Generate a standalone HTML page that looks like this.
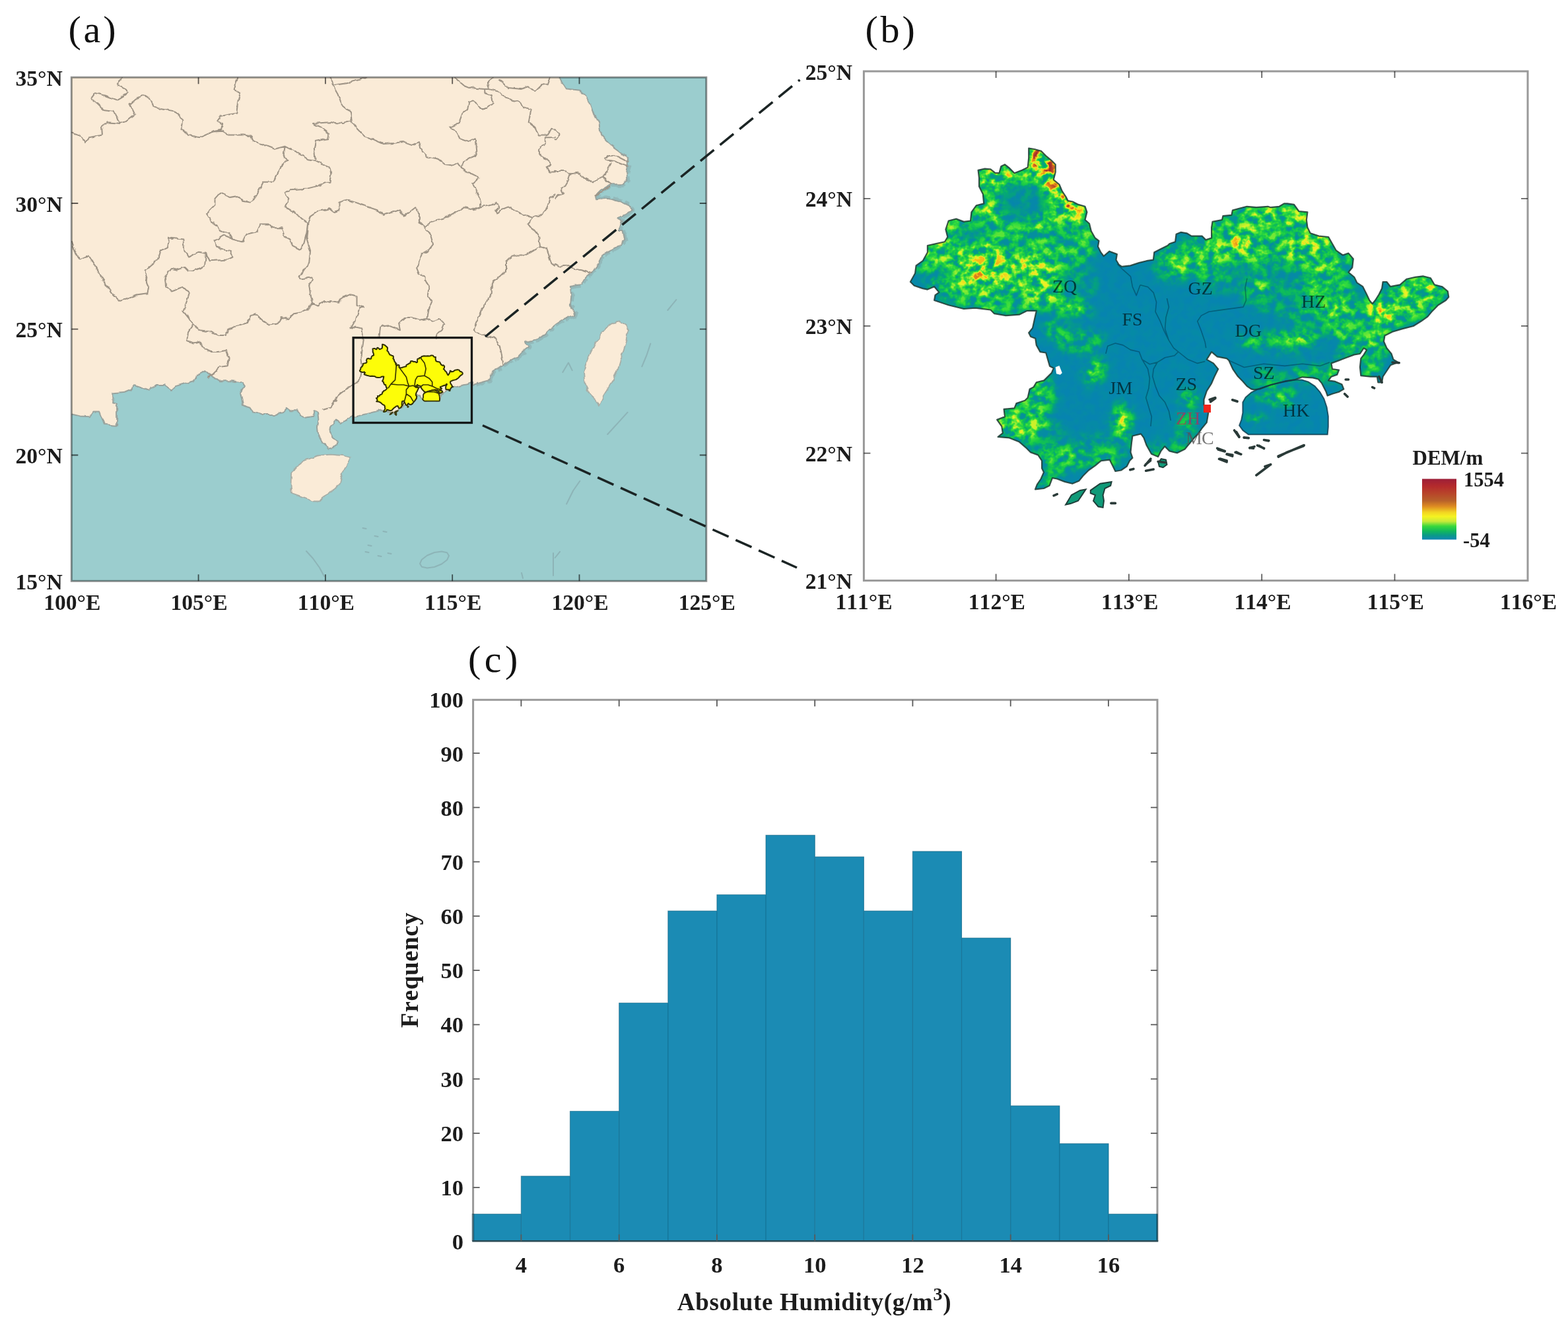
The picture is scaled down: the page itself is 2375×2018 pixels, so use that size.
<!DOCTYPE html>
<html lang="en"><head><meta charset="utf-8"><title>Study area and absolute humidity histogram</title>
<style>
html,body{margin:0;padding:0;background:#fff;}
body{width:2375px;height:2018px;overflow:hidden;}
svg{display:block;}
text{font-family:"Liberation Serif","DejaVu Serif",serif;fill:#1c1c1c;font-kerning:none;}
.tk{font-weight:bold;font-size:33.6px;}
.tc{font-weight:bold;font-size:34.5px;}
.pl{font-size:58px;fill:#111;}
.city{font-size:28px;fill:#000;fill-opacity:.62;}
</style></head><body>
<svg width="2375" height="2018" viewBox="0 0 2375 2018">
<rect width="2375" height="2018" fill="#fff"/>
<g id="panel-a">
<clipPath id="clipA"><rect x="108.3" y="117.2" width="961.5" height="763.1"/></clipPath>
<rect x="108.3" y="117.2" width="961.5" height="763.1" fill="#9bcdce"/>
<g clip-path="url(#clipA)">
<filter id="wigc" filterUnits="userSpaceOnUse" x="60" y="70" width="1060" height="860"><feTurbulence type="fractalNoise" baseFrequency="0.09" numOctaves="2" seed="8"/><feDisplacementMap in="SourceGraphic" scale="6" xChannelSelector="R" yChannelSelector="G"/></filter>
<g filter="url(#wigc)">
<path d="M952 248.8 949.2 261.8 950.6 273.4 943.4 279.2 924.6 279.2 910.1 287.8 901.4 296.5 904.3 302.3 918.8 300.8 927.5 302.3 939 305.2 953.5 312.4 957.8 318.2 946.3 325.4 936.1 329.8 941.9 335.5 939 344.2 939 350 943.4 350 946.3 361.6 939 371.7 924.6 378.9 913 384.7 910.1 393.4 901.4 404.9 895.7 413.6 887 420.8 881.2 431 872.5 432.4 863.9 433.9 865.3 448.3 863.9 462.8 869.6 474.3 870 478.7 854.8 483 841.8 491.7 833.1 498.6 825.3 506.4 815.8 513.4 802.8 516.8 794.1 519.4 801 525.5 792.4 532.5 785.4 539.4 772.4 546.3 763.7 551.5 755.9 556.7 746.4 562 743.8 569.8 742 575.8 729 579.3 716 582.8" fill="none" stroke="#7f9092" stroke-opacity="0.33" stroke-width="9" stroke-linejoin="round" stroke-dasharray="14 5 7 6 20 4"/>
<path d="M100 100 846.5 100 846.5 116.5 858.1 134.6 878.3 136.7 887 144.7 894.2 159.2 900 175.1 907.2 186.6 910.1 204 918.8 214.1 928.9 222.8 939 230 950.6 240.1 952 248.8 949.2 261.8 950.6 273.4 943.4 279.2 924.6 279.2 910.1 287.8 901.4 296.5 904.3 302.3 918.8 300.8 927.5 302.3 939 305.2 953.5 312.4 957.8 318.2 946.3 325.4 936.1 329.8 941.9 335.5 939 344.2 939 350 943.4 350 946.3 361.6 939 371.7 924.6 378.9 913 384.7 910.1 393.4 901.4 404.9 895.7 413.6 887 420.8 881.2 431 872.5 432.4 863.9 433.9 865.3 448.3 863.9 462.8 869.6 474.3 870 478.7 854.8 483 841.8 491.7 833.1 498.6 825.3 506.4 815.8 513.4 802.8 516.8 794.1 519.4 801 525.5 792.4 532.5 785.4 539.4 772.4 546.3 763.7 551.5 755.9 556.7 746.4 562 743.8 569.8 742 575.8 729 579.3 716 582.8 716.1 578.8 700.2 583 685.4 586.2 668.4 596.8 666.3 606.3 645.1 607.4 636.6 601 631.3 596.8 626 608.4 615.4 614.8 604.8 619 598.5 627.5 585.7 622.2 579.4 621.2 562.4 625.4 537 631.8 534.5 629.4 525.8 633.7 515.7 641 509.9 636.6 501.2 646.7 499.8 654 504.1 661.2 511.3 669.9 507 677.1 498.3 680 489.6 672.8 482.4 661.2 481 646.7 482.4 635.2 481 625.1 476.6 622.2 475.2 630.8 465.1 632.3 454.9 629.4 449.2 622.2 440.5 622.2 434.7 617.8 428.9 625.1 417.3 628 400 628 383.4 623.6 379.5 617.8 368 614 364.1 594.7 369.9 585.1 366 579.3 350.6 577.3 333.3 577.3 321.7 569.6 312 561.9 296.6 569.6 292.8 577.3 279.3 581.2 265.8 585.1 260 590.8 248.4 583.1 238.8 583.1 225.3 590.8 215.7 587 204.1 583.1 198.3 590.8 188.7 594.7 171.3 596.6 171.3 610.1 177.1 612 177.1 644.8 157.8 642.9 154 633.3 150.1 623.6 142.4 623.6 136.6 631.3 121.2 630.4 108.7 627.5 100 627.5Z" fill="#faebd7" stroke="#98a29d" stroke-width="2" stroke-linejoin="round"/>
<path d="M462.2 697.3 481 690.1 501.2 688.7 518.6 690.1 530.1 693 527.2 701.7 522.9 708.9 518.6 717.6 514.2 733.5 507 740.7 492.5 749.4 483.9 759.5 475.2 759.5 457.8 753.7 441.9 748 440.5 733.5 441.2 716.1 450.6 706Z" fill="#faebd7" stroke="#a6ada6" stroke-width="1.8" stroke-linejoin="round"/>
<path d="M939 487.3 947.7 493.1 952 500.4 949.2 514.8 944.8 530.7 939 545.2 934.7 559.6 928.9 575.5 921.7 587.1 914.5 598.7 910.1 608.8 907.2 614.6 904.3 607.3 898.6 601.6 892.8 595.8 885.5 581.3 884.1 564 887 552.4 894.2 535.1 901.4 520.6 910.1 506.1 920.2 494.6 930.4 488.8Z" fill="#faebd7" stroke="#a6ada6" stroke-width="1.8" stroke-linejoin="round"/>
</g>
<filter id="wig" filterUnits="userSpaceOnUse" x="100" y="110" width="980" height="780"><feTurbulence type="fractalNoise" baseFrequency="0.11" numOctaves="2" seed="3"/><feDisplacementMap in="SourceGraphic" scale="5" xChannelSelector="R" yChannelSelector="G"/></filter>
<path d="M184.8 116.7 177.1 129.3 190.6 135.1 194.5 140.8 177.1 151.4 159.8 144.7 143.4 140.8 137.6 148.6 148.2 158.2 155.9 165.9 171.3 167.8 177.1 177.5 181 187.1 190.6 184.2 204.1 173.6 196.4 158.2 208 148.6 218.6 143.7 227.2 148.6 233 161.1 242.7 164.9 260 167.8 269.6 171.7 277.3 183.3 275.4 194.8 285.1 204.5 302.4 208.3 315.9 202.5 321.7 199.6 337.1 198.7 346.7 204.5 369.9 204.5 379.5 206.4 385.3 214.1 400.7 219.9 416.1 225.7 431.6 221.8 447 229.5 466.3 241.1 477.8 243 500 254.6 501.3 264.2 499.4 275.8 493.3 275.8 481.7 281.6 466.3 285.4 439.3 287.3 431.6 293.1 437.3 300.8 431.6 314.3 445.1 320.1 456.6 331.7 466.3 337.5 470.1 327.8 481.7 320.1 500 316.3M181 187.1 163.6 185.2 154 191 154.9 204.5 134.7 208.3 128.9 216 121.2 204.5 108.7 200.6M360.2 116.7 354.5 135.1 364.1 140.8 360.2 154.3 358.3 171.7 335.2 175.5 329.4 183.3 337.1 187.1 335.2 196.7 321.7 199.6M431.6 221.8 429.6 235.3 435.4 243 427.7 248.8 420 264.2 414.2 275.8 398.8 275.8 393 287.3 385.3 300.8 377.6 306.6 368 304.7 360.2 297 348.7 298.9 333.3 292.2 325.5 300.8 325.5 310.5 312 324 319.8 335.5 329.4 341.3 333.3 349 346.7 352.9 352.5 362.5 366 366.4 373.7 354.8 389.2 351 394.9 339.4 406.5 339.4 412.3 345.2 427.7 345.2 431.6 358.7 439.3 362.5 443.1 372.2 454.7 378 460.5 368.3 464.3 352.9 466.3 337.5M500 185.2 474 187.1 485.5 192.9 499 202.5 497.1 210.2 477.8 214.1 475.9 225.7 477.8 243M466.3 337.5 464.3 360.6 470.1 379.9 468.2 399.2 452.8 418.4 456.6 422.3 472 420.4 473.4 425M352.5 362.5 339 356.7 325.5 364.5 327.5 372.2 337.1 378 348.7 379.9 352.5 389.5 344.8 393.4 317.8 395.3 312 383.7 300.5 381.8 285.1 389.5 279.3 379.9 277.3 362.5 256.1 360.6 254.2 374.1 242.7 379.9 238.8 393.4 227.2 403 219.5 410.7 223.1 425M312 383.7 310.1 403 292.8 410.7 285.1 410.7 279.3 404.9 267.7 408.8 260 406.9 250.4 418.4 251.5 425M108.7 366.4 115.4 385.7 121.2 393.4 134.7 387.6 148.2 410.7 157.7 425M500 115.8 503.9 129.3 511.6 142.8 517.3 158.2 530.8 169.8 532.8 183.3 540.5 194.8 552 206.4 567.5 212.2 581 218 596.4 217 609.9 215.1 623.4 219.9 634.9 215.1 638.8 229.5 646.5 237.2 663.9 241.1 673.5 248.8 685.1 250.7 692.8 246.9 698.6 254.6 710.1 262.3 721.7 266.1 725.5 270 715.9 277.7 719.8 287.3 723.6 295.1 727.5 302.8 728.4 314.3M532.8 183.3 519.3 187.1 500 185.2M503.9 129.3 528.9 125.4 554 117.7M728.4 314.3 717.8 317.2 704.3 314.3 690.8 322 673.5 329.8 654.2 335.5 642.7 344.2 634.9 335.5 634.9 322 629.2 314.3 619.5 322 611.8 327.8 606 318.2 592.5 322 581 325.9 571.3 318.2 554 312.4 538.6 306.6 525.1 302.8 513.5 306.6 513.5 318.2 505.8 321.1 500 317.2M642.7 344.2 652.3 356.7 656.1 370.2 648.4 379.9 638.8 385.7 634.9 397.2 631.1 404.9 634.9 414.6 642.7 418.4 642.7 425M728.4 314.3 744.8 310.5 752.5 306.6 756.4 314.3 750.6 320.1 752.5 324 760.2 316.3 769.9 312.4 777.6 318.2 789.2 324 806.5 328.8 820 325.9 829.6 314.3 833.5 300.8 839.3 295.1 840 294.9M806.5 328.8 800.7 339.4 808.4 349 816.1 358.7 818.1 374.1 827.7 376 831.6 387.6 835.4 399.2 840 402.6M818.1 374.1 804.6 381.8 789.2 387.6 775.7 387.6 766 397.2 766 410.7 758.3 418.4 748.5 425M840 260.4 831.6 260.4 827.7 252.7 835.4 248.8 827.7 241.1 816.1 233.4 816.1 225.7 825.8 218 825.8 208.3 839.3 208.3 840 208.1M840 195.7 835.4 194.8 829.6 204.5 816.1 204.5 810.4 192.9 800.7 185.2 804.6 165.9 793 162 785.3 154.3 766 148.6 756.4 138.9 741 135.1 739 125.4 746.7 117.7M698.6 254.6 702.4 244.9 712 239.2 721.7 235.3 719.8 210.2 710.1 215.1 696.6 210.2 690.8 198.7 681.2 192.9 694.7 187.1 700.5 171.7 708.2 165.9 710.1 154.3 717.8 152.4 727.5 164 737.1 164 746.7 156.3 744.8 144.7 733.3 140.8 733.3 135.1 741 135.1M688.9 117.7 702.4 129.3 712 133.1 733.3 135.1M756.4 121.6 769.9 133.1 789.2 135.1 800.7 131.2 810.4 138.9 820 129.3 829.6 127.3 833.5 117.7M155.6 425 161.7 432.8 171.3 446.3 181 455.9 192.5 452 208 446.3 223.4 444.3 225.3 432.8 222 425M251.1 425 252.3 434.7 260 440.5 277.3 434.7 287 444.3 283.1 455.9 277.3 471.3 285.1 481 292.8 490.6 285.1 502.2 283.1 515.7 292.8 519.5 304.3 517.6 310.1 529.2 317.8 533 331.3 533 342.9 531.1 346.7 542.7 344.8 554.2 333.3 556.1 323.6 565.8 315.9 571.6M292.8 490.6 302.4 500.2 317.8 502.2 331.3 508 342.9 508 344.8 500.2 362.2 492.5 375.7 488.7 379.5 477.1 387.2 475.2 396.9 484.8 408.4 492.5 420 490.6 425.8 481 437.3 482.9 445.1 475.2 456.6 473.3 466.3 467.5 474 459.8 470.1 446.3 468.2 432.8 472.1 425M474 459.8 481.7 463.6 491.3 455.9 500 457.8M644.5 425 650.4 436.6 648.4 448.2 654.2 455.9 648.4 469.4 646.5 482.9 634.9 484.8 623.4 481 613.7 481 604.1 490.6 606 500.2 596.4 496.4 586.7 492.5 575.2 494.5 573.3 511.8M646.5 482.9 654.2 486.7 665.8 482.9 673.5 490.6 669.6 500.2 661.9 506 660 511.8M550.1 511.8 548.2 496.4 538.6 494.5 530.8 498.3 538.6 484.8 544.3 467.5 550.1 465.5 540.5 461.7 540.5 448.2 530.8 446.3 519.3 450.1 511.6 457.8 500 455.9M489.6 620.7 500 617.8 507.7 608.2 511.6 600.5 521.2 592.8 528.9 585.1 542.4 579.3 546.3 569.6 548.2 558.1 546.3 542.7 548.2 525.3 550.1 511.8M748.3 425 744.8 430.8 744.8 444.3 737.1 455.9 731.3 465.5 723.6 481 717.8 500.2 721.7 504.1 735.2 508 748.7 511.8 756.4 523.4 760.2 538.8 762.2 552.3M840 195.4 840.7 195.3 846.5 204 843.6 211.2 840 211.2M840 258.7 842.2 258.9 855.2 258.9 863.9 263.3 875.4 261.8 884.1 269 892.8 273.4 898.6 277.7 905.8 270.5 914.5 267.6 918.8 260.4 923.1 251.7 926 247.3M914.5 267.6 918.8 274.8 924.6 279.2M863.9 263.3 861 271.9 855.2 282 850.8 287.8 853.7 293.6 843.6 296.5 840 300.1M915.9 238.7 924.6 235.8 936.1 237.2 950.6 244.5M917.3 241.6 930.4 244.5 941.9 248.8 950.6 253.1M901.4 296.5 910.1 290.7 918.8 284.9 924.6 282M840 400 849.4 403.5 861 402 869.6 407.8 881.2 409.3 889.9 412.2 895.7 413.6" fill="none" stroke="#9d9385" stroke-width="2" stroke-linejoin="round" stroke-linecap="round" filter="url(#wig)"/>
<path d="M1011.3 470 1024.3 454.1M972.3 555.3 979.5 538 985.3 520.6M852.3 564 861 549.5 866.7 561.1M920.2 658 936.1 640.6 950.6 624.7M858.1 763.5 868.2 743.3 878.3 728.8M840.7 845 848 835.8M549.5 800 554.5 801M557.5 826 562.5 827M567.5 812 572.5 813M580.5 805 585.5 806M587.5 838 592.5 839M553.5 836 558.5 837M572.5 842 577.5 843M680 842 677.1 848.3 669 854.5 658 859 647 860.5 638.9 858.7 636 854 638.9 847.7 647 841.5 658 837 669 835.5 677.1 837.3 680 842M464 835 474 846 484 860 491 873M838 838 838 872M790 868 792 876" fill="none" stroke="#8aaeb2" stroke-width="2" stroke-linecap="round" stroke-linejoin="round" stroke-opacity="0.8"/>
<path d="M544.8 561.8 546.2 559.3 546.5 557 548.4 555.5 549.8 553 549.8 551 552.3 550.4 554.8 549.8 555.6 548.4 555 546.1 555.9 543.5 558.1 543 560.3 543.8 562.2 543.5 562.5 541 563.9 539 566.1 538.4 565.8 535.5 564.7 533.2 564.7 530.7 564.5 528.4 566.4 527.9 568 528.1 569.4 529.2 570.5 529.2 571.1 527.2 572.2 526.7 573.6 527.8 575 529.2 577.2 528.4 578.8 527.5 579.1 524.7 579.1 521.8 580.8 522.1 582.7 522.7 584.1 524.1 585.8 525.5 586.9 526.7 586.9 529 586.3 531.2 588 532.7 588.8 534.7 589.9 536.4 590.5 537.5 591.8 537.8 593.5 538.7 595.4 539.2 596 541 595.4 543.2 596.7 544.4 597.2 546.7 598.3 548.7 599.4 549.5 599.2 551.3 600 553 600.8 554.1 602.5 552.7 604.7 553.5 604.4 555.3 605.3 556.7 606.1 557.3 608.6 557 611.1 556.1 613.3 555.5 615.2 555.3 615.5 553 617.1 552.1 619.4 551 619.9 550.4 621.6 549.8 621.8 547.5 623.2 547 624.9 547.2 626.3 548.1 629.3 548.1 630.4 549.2 632.1 548.7 632.1 545.5 632.4 543.8 635.1 543.2 635.4 542.1 637.9 541.8 638.2 540.4 640.1 539.8 642.3 539.2 645.1 539.5 648.4 539.2 649.2 539.5 651.7 539.2 653.1 538.4 654.1 538.4 656 538.7 657.4 540.7 659.9 541 659.6 543.2 659.9 545.5 660.7 547.2 663.2 548.1 666 548.4 667.1 550.4 668.2 552.4 670.1 553.8 671.8 553.3 673.2 555 672.9 557.5 671.8 559 673.4 560.4 674.3 562.1 675.9 563.3 677 565.5 677.9 567.4 678.7 568.4 679.5 567.4 680.6 565.5 681.5 563.8 681.7 561.8 682.8 561.8 683.9 563.3 686.7 562.7 688.7 561 691.1 560.4 693.4 560.1 695.6 560.7 696.7 562.7 698.9 563.3 700.5 564.7 700.8 566.4 700 567.4 697.8 568.8 696.1 570.5 694.7 572.2 692.8 573.7 690.6 575.1 687.3 575.9 684.5 576.8 682.3 577.9 682 579.7 682.8 581.7 684.2 583.4 684.8 585.1 686.2 586 683.9 586.8 682.8 588.5 681.7 590.2 681.5 592 680.4 592 680.1 590.2 678.1 590.2 675.4 590 675.1 587.4 675.4 584.8 676.2 583.7 677 582.2 676.2 581.7 675.1 583.4 673.4 583.7 671.2 584.5 669 585.4 666.8 586.2 667.1 588 669 588.2 668.5 589.7 666.8 590.2 666 591.4 667.9 591.7 669.8 592.5 670.4 594 669 594.8 667.1 595.4 665.7 596 665.3 594.8 664.7 593.5 664.1 592.3 663.1 591 661.4 590.6 658.4 590.4 656.4 591.1 653.3 591.6 649.3 592.7 646 593.9 644.4 594.1 643.6 593.9 642.4 593.1 641.1 591.6 639.7 590.2 638.3 588.1 637.1 585.3 636.5 584.8 633.7 584.2 632.1 582.8 630.7 585.1 632.6 586.2 634 588 632.9 590.2 632.1 592.2 630.7 594.5 629.9 597.1 629.9 598.8 631.3 600.5 630.7 604 629.3 605.7 628.2 607.4 627.1 608.5 625.7 610.3 624.3 612 622.1 613.1 619.9 612.5 618.5 611.1 617.4 612.5 616.6 614.3 614.7 613.4 613.3 610.8 612.4 608.5 611.6 607.4 609.2 608 608.9 610 608.6 612.9 609.2 614.6 608.4 615.4 607.5 617.1 605.9 618.3 604.2 618.6 603.4 616.9 602.6 615.1 600.1 615.4 598.4 616.9 596.5 618.3 594.8 620 593.7 621.4 591.8 622.3 589.6 621.7 587.3 620.9 586 620.6 585.1 622.9 583.5 623.7 581 624 581.5 622.6 582.6 620.9 583.5 618.9 582.9 617.7 582.9 615.4 581.8 613.7 579.6 612.9 578.2 611.4 576.3 609.7 573.5 608.6 570.2 608.3 571.6 607.1 571.3 605.1 569.9 603.1 572.2 602.2 571.9 600 575 599.7 575.5 598.2 578 597.4 578.8 596.5 579.4 594 580.5 593.4 581.3 592 583.5 591.4 585.8 589.1 586.3 587.7 585.2 587.1 584.6 585.1 584.1 583.1 582.4 582.8 581.3 580.8 581 578.8 579.7 578.2 579.1 577.1 580.2 575.7 580.8 573.1 581.3 570.5 578.6 570.5 576.3 571.7 572.5 571.9 569.2 571.4 568 570.2 563.6 569.7 560.3 569.9 555.9 568.8 551.7 567.4 552 565.8 553.1 565 551.7 563.3 549.8 564.1 548.4 563.8 545.9 563Z" fill="#fdfd08" stroke="#2f2e00" stroke-width="2" stroke-linejoin="round"/>
<path d="M642.8 607.6 641.1 606.3 640.1 604.8 640.7 603.2 641.1 601.1 641.1 597.9 642 596.5 643.6 595 645.6 593.9 648 593.1 650.9 592.3 653.7 591.6 656.4 591.2 658.4 591.2 660.2 591.8 662 593.1 663.5 594.8 664.7 596.9 665.5 599.4 665.9 602.1 665.9 605.3 665.7 607.6Z" fill="#fdfd08" stroke="#2f2e00" stroke-width="1.8" stroke-linejoin="round"/>
<path d="M597 624.3 599.8 622.3 603.1 621.7 602.8 622.9 601.2 623.7 600.6 625.7 600.9 627.4 600.6 629.4 599.2 629.2 597.9 627.4 598.4 625.7 597 625.2Z" fill="#3a3a10" stroke="#3a3a10" stroke-width="1"/>
<path d="M589.8 628.6 591.5 625.7 594 624.3 595.6 624 594.5 625.7 593.4 627.4 591.2 628.3Z" fill="#3a3a10" stroke="#3a3a10" stroke-width="1"/>
<path d="M616.7 616 617.5 614.9 618.9 615.1 619.2 616.6 618 617.4 616.9 617.1Z" fill="#3a3a10" stroke="#3a3a10" stroke-width="1"/>
<path d="M600.6 550.1 599.5 563.9 598.5 575.6 592.1 581.9 587.9 588.3M603.8 555.4 610.1 563.9 615.4 571.3 617.5 579.8 619.7 585.1 615.4 590.4 615.4 596.8 613.3 605.3 611.2 611.6 609.1 614.8M592.1 581.9 602.7 583 611.2 583 619.7 585.1 626 584.1 630.3 587.2 635.6 587.2M615.4 596.8 621.8 601 626 608.4M636.6 541.7 643 550.1 645.1 558.6 643 569.2 632.4 570.3 629.2 575.6 628.1 583 630.3 587.2M643 569.2 650.4 573.5 654.7 578.8 654.7 585.1 648.3 583 640.9 583 635.6 587.2M654.7 585.1 661 588.3 667.4 590.4M641.9 595.7 647.2 593.6 657.8 593.6 666.3 596.8" fill="none" stroke="#3a3800" stroke-width="1.7" stroke-linejoin="round"/>
</g>
<rect x="108.3" y="117.2" width="961.5" height="763.1" fill="none" stroke="#000" stroke-opacity="0.42" stroke-width="3"/>
<path d="M300.6 880.3v-10M300.6 117.2v10M492.9 880.3v-10M492.9 117.2v10M685.2 880.3v-10M685.2 117.2v10M877.5 880.3v-10M877.5 117.2v10M108.3 308h10M1069.8 308h-10M108.3 498.7h10M1069.8 498.7h-10M108.3 689.5h10M1069.8 689.5h-10" stroke="#000" stroke-opacity="0.62" stroke-width="1.8" fill="none"/>
<text class="tk" x="109.3" y="923.8" text-anchor="middle">100°E</text>
<text class="tk" x="301.6" y="923.8" text-anchor="middle">105°E</text>
<text class="tk" x="493.9" y="923.8" text-anchor="middle">110°E</text>
<text class="tk" x="686.2" y="923.8" text-anchor="middle">115°E</text>
<text class="tk" x="878.5" y="923.8" text-anchor="middle">120°E</text>
<text class="tk" x="1070.8" y="923.8" text-anchor="middle">125°E</text>
<text class="tk" x="94.8" y="129.7" text-anchor="end">35°N</text>
<text class="tk" x="94.8" y="320.5" text-anchor="end">30°N</text>
<text class="tk" x="94.8" y="511.2" text-anchor="end">25°N</text>
<text class="tk" x="94.8" y="702" text-anchor="end">20°N</text>
<text class="tk" x="94.8" y="892.8" text-anchor="end">15°N</text>
<text class="pl" x="103.5" y="63.5" letter-spacing="3.8">(a)</text>
</g>
<g id="panel-b">
<clipPath id="clipB"><rect x="1308.4" y="108" width="1005.6" height="771.6"/></clipPath>
<g clip-path="url(#clipB)">
<defs>
<clipPath id="bclip"><path d="M1378.9 427 1386.1 414 1387.6 402.4 1397.7 395.2 1404.9 382.2 1404.9 372 1418 369.2 1431 366.3 1435.3 359 1432.4 347.5 1436.7 334.5 1448.3 331.6 1459.9 335.9 1470 334.5 1471.4 321.4 1478.7 311.3 1490.2 308.4 1488.8 294 1483 282.4 1483 269.4 1481.6 257.8 1491.7 255.7 1500.4 256.4 1507.6 262.2 1513.4 262.2 1516.3 252 1522 249.2 1529.3 254.9 1536.5 262.2 1548.1 257.8 1556.7 253.5 1558.2 239 1558.2 224.6 1566.9 226 1577 228.9 1584.2 236.1 1592.9 243.4 1598.7 249.2 1598.7 260.7 1595.8 272.3 1604.5 279.5 1608.8 289.6 1614.6 298.3 1617.5 304.1 1624.7 305.5 1633.4 309.9 1643.5 312.8 1646.4 321.4 1643.5 333 1650 338.8 1652.9 350.4 1658.7 360.5 1664.5 364.8 1663 373.5 1667.3 382.2 1671.7 388 1680.4 380.7 1691.9 385.1 1690.5 393.7 1694.8 401 1699.2 403.9 1712.2 402.4 1725.2 398.1 1736.7 395.2 1746.9 393.7 1748.3 382.2 1757 377.8 1768.6 372 1771.4 369.2 1780.1 366.3 1781.6 354.7 1788.8 351.8 1797.5 353.3 1804.7 357.6 1820.6 357.6 1826.4 363.4 1835.1 360.5 1835.1 344.6 1836.5 335.9 1851 333 1852.4 327.2 1865.4 325.8 1866.9 318.6 1877 315.7 1888.6 312.8 1903 314.2 1920.4 312.8 1924.7 314.2 1937.7 312.8 1944.9 308.4 1950 308.4 1960.1 309.9 1967.3 320 1980.4 321.4 1978.9 333 1980.4 344.6 1984.7 353.3 1997.7 357.6 2012.2 359 2018 369.2 2023.7 379.3 2033.9 386.5 2042.5 383.6 2049.8 392.3 2048.3 405.3 2042.5 412.5 2051.2 419.8 2055.5 428.4 2064.2 434.2 2070 445.8 2074.3 455 2078.7 460.2 2083 455 2088.8 445.8 2093.1 437.1 2094.6 427 2100.4 427 2106.1 434.2 2120.6 431.3 2130.7 422.7 2143.7 419.8 2155.3 418.3 2166.9 421.2 2172.7 431.3 2184.2 434.2 2192.9 441.4 2194.3 450.1 2190 455 2178.4 462.2 2169.8 470.9 2162.5 479.6 2152.4 486.8 2140.8 494 2123.5 498.4 2109 502.7 2097.5 508.5 2096 517.2 2100.4 527.3 2107.6 536 2110.5 544.6 2117.7 549 2106.1 553.3 2100.4 562 2094.6 570.7 2093.1 579.3 2087.3 579.3 2085.9 570.7 2075.8 570.7 2061.3 569.2 2059.9 556.2 2061.3 543.2 2065.7 537.4 2070 530.2 2065.7 527.3 2059.9 536 2051.2 537.4 2039.6 541.7 2028.1 546.1 2016.5 550.4 2018 559.1 2028.1 560.5 2025.2 567.8 2016.5 570.7 2012.2 576.4 2022.3 577.9 2032.4 582.2 2035.3 589.5 2028.1 593.8 2018 596.7 2010.7 599.6 2008.6 593.6 2005.4 587.3 2002.2 580.9 1996.9 574.5 1988.4 572.4 1972.5 571.3 1961.9 575.1 1946 577.7 1924.8 583 1907.9 589.4 1899.4 590.4 1895.1 589.4 1888.8 585.1 1882.4 577.7 1875 570.3 1867.6 559.7 1861.2 545.9 1858.2 543.2 1843.7 540.3 1835.1 533.1 1827.8 544.6 1838 550.4 1845.2 559.1 1839.4 570.7 1835.1 580.8 1827.8 592.3 1823.5 605.4 1823.5 614 1830.7 622.7 1827.8 640.1 1820.6 648.7 1814.8 657.4 1809 663.2 1801.8 671.9 1794.6 680.5 1783 686.3 1771.4 683.4 1764.2 676.2 1758.4 683.4 1754.1 692.1 1744 687.8 1736.7 674.8 1732.4 663.2 1728.1 657.4 1715.4 660.5 1714 670.6 1712.5 685.1 1715.4 693.7 1711.1 698.1 1706.7 706.7 1698.1 712.5 1689.4 714 1685.1 705.3 1680.7 696.6 1667.7 698.1 1659 705.3 1648.9 712.5 1640.2 721.2 1634.5 728.4 1624.3 732.8 1612.8 729.9 1601.2 725.5 1594 724.1 1589.6 735.7 1581 740 1568 741.4 1570.8 734.2 1576.6 725.5 1581 715.4 1578.1 709.6 1578.1 698.1 1572.3 689.4 1560.7 685.1 1553.5 677.8 1543.4 669.2 1528.9 663.4 1511.6 661.9 1518.8 656.1 1517.3 646 1510.1 635.9 1522 631.4 1520.6 619.8 1536.5 618.4 1539.4 611.1 1552.4 606.8 1556.7 602.5 1559.6 589.5 1565.4 586.6 1569.8 579.3 1581.3 576.4 1592.9 564.9 1595.8 557.7 1590 554.8 1587.1 544.6 1584.2 534.5 1575.5 533.1 1569.8 523 1568.3 512.8 1561.1 509.9 1558.2 504.2 1564 496.9 1566.9 483.9 1569.8 470.9 1555.3 470.9 1543.7 476.7 1523.5 478.1 1506.1 475.2 1500.4 469.5 1477.2 466.6 1459.9 468 1436.7 462.2 1415.1 455 1416.5 447.2 1422.3 442.9 1415.1 434.2 1404.9 438.6 1397.7 437.1 1384.7 432.8Z"/><path d="M1890.9 658.3 1882.4 651.9 1877.1 644.5 1880.3 636 1882.4 625.4 1882.4 609.5 1886.7 602.1 1895.1 594.7 1905.7 589.4 1918.5 585.1 1933.3 580.9 1948.1 577.7 1961.9 575.6 1972.5 575.6 1982.1 578.8 1991.6 585.1 1999 593.6 2005.4 604.2 2009.6 616.9 2011.8 630.7 2011.8 646.6 2010.7 658.3Z"/></clipPath>
<filter id="demf" filterUnits="userSpaceOnUse" x="1360" y="200" width="860" height="580" color-interpolation-filters="sRGB">
<feGaussianBlur in="SourceGraphic" stdDeviation="7" result="L"/>
<feTurbulence type="fractalNoise" baseFrequency="0.075 0.08" numOctaves="3" seed="11" result="t"/>
<feColorMatrix in="t" type="matrix" values="1 0 0 0 0 1 0 0 0 0 1 0 0 0 0 0 0 0 0 1" result="g"/>
<feComponentTransfer in="g" result="N"><feFuncR type="linear" slope="2.4" intercept="-0.7"/><feFuncG type="linear" slope="2.4" intercept="-0.7"/><feFuncB type="linear" slope="2.4" intercept="-0.7"/></feComponentTransfer>
<feComposite in="L" in2="N" operator="arithmetic" k1="0.74" k2="0.15" k3="0.04" k4="0.13" result="E"/>
<feComponentTransfer in="E"><feFuncR type="table" tableValues="0.03 0.03 0.02 0.02 0.08 0.20 0.55 0.92 0.97 0.85 0.65"/><feFuncG type="table" tableValues="0.45 0.50 0.56 0.66 0.78 0.86 0.93 0.95 0.75 0.45 0.18"/><feFuncB type="table" tableValues="0.80 0.72 0.62 0.46 0.30 0.24 0.20 0.15 0.10 0.12 0.18"/><feFuncA type="linear" slope="0" intercept="1"/></feComponentTransfer>
</filter></defs>
<g clip-path="url(#bclip)"><g filter="url(#demf)">
<rect x="1340" y="180" width="900" height="620" fill="#000"/>
<ellipse cx="1526.4" cy="353.4" rx="144.5" ry="120.4" fill="#fff" fill-opacity="0.42" transform="rotate(-25 1526.4 353.4)"/>
<ellipse cx="1444.5" cy="387.1" rx="67.4" ry="53" fill="#fff" fill-opacity="0.25"/>
<ellipse cx="1598.7" cy="300.4" rx="53" ry="72.3" fill="#fff" fill-opacity="0.25" transform="rotate(-20 1598.7 300.4)"/>
<ellipse cx="1569.7" cy="430.5" rx="96.3" ry="43.4" fill="#fff" fill-opacity="0.30"/>
<ellipse cx="1492.7" cy="396.8" rx="38.5" ry="33.7" fill="#fff" fill-opacity="0.35"/>
<ellipse cx="1502.3" cy="317.3" rx="19.3" ry="14.5" fill="#fff" fill-opacity="0.35"/>
<ellipse cx="1560.1" cy="396.8" rx="16.9" ry="19.3" fill="#fff" fill-opacity="0.35"/>
<ellipse cx="1468.6" cy="418.4" rx="19.3" ry="13.5" fill="#fff" fill-opacity="0.30"/>
<ellipse cx="1622.7" cy="469" rx="24.1" ry="8.7" fill="#fff" fill-opacity="0.40"/>
<ellipse cx="1577" cy="242.6" rx="18.3" ry="24.1" fill="#fff" fill-opacity="0.75" transform="rotate(-15 1577 242.6)"/>
<ellipse cx="1574.6" cy="233" rx="9.6" ry="10.6" fill="#fff" fill-opacity="0.80"/>
<ellipse cx="1617.9" cy="293.2" rx="14.5" ry="28.9" fill="#fff" fill-opacity="0.45" transform="rotate(-25 1617.9 293.2)"/>
<ellipse cx="1634.8" cy="314.9" rx="7.7" ry="10.6" fill="#fff" fill-opacity="0.50"/>
<ellipse cx="1502.3" cy="264.3" rx="28.9" ry="14.5" fill="#fff" fill-opacity="0.30"/>
<ellipse cx="1550.5" cy="305.2" rx="38.5" ry="28.9" fill="#000" fill-opacity="0.75"/>
<ellipse cx="1473.4" cy="355.8" rx="28.9" ry="15.4" fill="#000" fill-opacity="0.60"/>
<ellipse cx="1608.3" cy="353.4" rx="24.1" ry="14.5" fill="#000" fill-opacity="0.45"/>
<ellipse cx="1420.4" cy="416" rx="28.9" ry="14.5" fill="#000" fill-opacity="0.45"/>
<ellipse cx="1637.2" cy="420.8" rx="38.5" ry="28.9" fill="#000" fill-opacity="0.50"/>
<ellipse cx="1531.2" cy="454.6" rx="28.9" ry="12" fill="#000" fill-opacity="0.40"/>
<ellipse cx="1916.6" cy="353.4" rx="106" ry="45.8" fill="#fff" fill-opacity="0.45"/>
<ellipse cx="1805.8" cy="391.9" rx="53" ry="28.9" fill="#fff" fill-opacity="0.35"/>
<ellipse cx="1998.5" cy="382.3" rx="53" ry="33.7" fill="#fff" fill-opacity="0.35"/>
<ellipse cx="1882.9" cy="360.6" rx="21.7" ry="15.4" fill="#fff" fill-opacity="0.50" transform="rotate(-30 1882.9 360.6)"/>
<ellipse cx="1875.6" cy="367.9" rx="8.7" ry="6.7" fill="#fff" fill-opacity="0.60"/>
<ellipse cx="1940.7" cy="324.5" rx="62.6" ry="16.9" fill="#fff" fill-opacity="0.30"/>
<ellipse cx="1909.3" cy="435.3" rx="12.5" ry="9.6" fill="#fff" fill-opacity="0.60"/>
<ellipse cx="1984" cy="432.9" rx="9.6" ry="7.7" fill="#fff" fill-opacity="0.65"/>
<ellipse cx="1945.5" cy="406.4" rx="28.9" ry="13.5" fill="#000" fill-opacity="0.50"/>
<ellipse cx="1844.3" cy="430.5" rx="28.9" ry="14.5" fill="#fff" fill-opacity="0.20"/>
<ellipse cx="2133.3" cy="454.6" rx="62.6" ry="33.7" fill="#fff" fill-opacity="0.50" transform="rotate(-25 2133.3 454.6)"/>
<ellipse cx="2061.1" cy="488.3" rx="53" ry="38.5" fill="#fff" fill-opacity="0.40"/>
<ellipse cx="2152.6" cy="437.7" rx="28.9" ry="14.5" fill="#fff" fill-opacity="0.35" transform="rotate(-20 2152.6 437.7)"/>
<ellipse cx="2090" cy="464.2" rx="19.3" ry="13.5" fill="#fff" fill-opacity="0.35"/>
<ellipse cx="2012.9" cy="449.7" rx="28.9" ry="24.1" fill="#fff" fill-opacity="0.25"/>
<ellipse cx="2090" cy="526.8" rx="19.3" ry="24.1" fill="#fff" fill-opacity="0.35"/>
<ellipse cx="2051.4" cy="531.6" rx="28.9" ry="19.3" fill="#fff" fill-opacity="0.30"/>
<ellipse cx="1959.9" cy="512.4" rx="33.7" ry="6.7" fill="#fff" fill-opacity="0.60"/>
<ellipse cx="1940.7" cy="517.2" rx="57.8" ry="19.3" fill="#fff" fill-opacity="0.25"/>
<ellipse cx="1892.5" cy="517.2" rx="19.3" ry="9.6" fill="#fff" fill-opacity="0.30"/>
<ellipse cx="1984" cy="565.4" rx="38.5" ry="14.5" fill="#fff" fill-opacity="0.35"/>
<ellipse cx="1921.4" cy="570.2" rx="24.1" ry="12" fill="#fff" fill-opacity="0.30"/>
<ellipse cx="2022.5" cy="565.4" rx="9.6" ry="19.3" fill="#fff" fill-opacity="0.45"/>
<ellipse cx="2075.5" cy="560.5" rx="16.9" ry="14.5" fill="#fff" fill-opacity="0.45"/>
<ellipse cx="1940.7" cy="606.3" rx="24.1" ry="6.7" fill="#fff" fill-opacity="0.60"/>
<ellipse cx="1902.1" cy="635.2" rx="14.5" ry="4.8" fill="#fff" fill-opacity="0.65"/>
<ellipse cx="1926.2" cy="594.3" rx="43.4" ry="14.5" fill="#fff" fill-opacity="0.25"/>
<ellipse cx="1801" cy="603.9" rx="14.5" ry="14.5" fill="#fff" fill-opacity="0.45"/>
<ellipse cx="1796.1" cy="642.4" rx="19.3" ry="19.3" fill="#fff" fill-opacity="0.30"/>
<ellipse cx="1786.5" cy="676.1" rx="19.3" ry="14.5" fill="#fff" fill-opacity="0.30"/>
<ellipse cx="1550.5" cy="613.5" rx="48.2" ry="57.8" fill="#fff" fill-opacity="0.45" transform="rotate(20 1550.5 613.5)"/>
<ellipse cx="1531.2" cy="642.4" rx="19.3" ry="19.3" fill="#fff" fill-opacity="0.30"/>
<ellipse cx="1658.9" cy="562.9" rx="14.5" ry="21.7" fill="#fff" fill-opacity="0.55" transform="rotate(30 1658.9 562.9)"/>
<ellipse cx="1699.8" cy="637.6" rx="15.4" ry="26.5" fill="#fff" fill-opacity="0.60"/>
<ellipse cx="1699.8" cy="642.4" rx="7.7" ry="13.5" fill="#fff" fill-opacity="0.40"/>
<ellipse cx="1608.3" cy="695.4" rx="43.4" ry="19.3" fill="#fff" fill-opacity="0.40"/>
<ellipse cx="1675.7" cy="695.4" rx="19.3" ry="14.5" fill="#fff" fill-opacity="0.40"/>
<ellipse cx="1589" cy="729.1" rx="19.3" ry="19.3" fill="#fff" fill-opacity="0.35"/>
<ellipse cx="1637.2" cy="517.2" rx="38.5" ry="19.3" fill="#fff" fill-opacity="0.30"/>
<ellipse cx="1598.7" cy="497.9" rx="19.3" ry="19.3" fill="#fff" fill-opacity="0.30"/>
<ellipse cx="1617.9" cy="628" rx="33.7" ry="28.9" fill="#000" fill-opacity="0.55"/>
<ellipse cx="1752.8" cy="685.8" rx="14.5" ry="19.3" fill="#fff" fill-opacity="0.30"/>
<ellipse cx="1578" cy="243" rx="20" ry="26" fill="#fff" fill-opacity="0.95" transform="rotate(-15 1578 243)"/>
<ellipse cx="1572" cy="232" rx="12" ry="14" fill="#fff" fill-opacity="0.90"/>
<ellipse cx="1612" cy="300" rx="12" ry="30" fill="#fff" fill-opacity="0.70" transform="rotate(-35 1612 300)"/>
<ellipse cx="1512" cy="268" rx="34" ry="10" fill="#fff" fill-opacity="0.55" transform="rotate(-8 1512 268)"/>
<ellipse cx="1455" cy="262" rx="14" ry="10" fill="#fff" fill-opacity="0.50"/>
<ellipse cx="1612" cy="312" rx="8" ry="14" fill="#fff" fill-opacity="0.60" transform="rotate(-30 1612 312)"/>
<ellipse cx="1590" cy="270" rx="16" ry="22" fill="#fff" fill-opacity="0.60"/>
<ellipse cx="1964.7" cy="440.1" rx="91.5" ry="43.4" fill="#fff" fill-opacity="0.22"/>
<ellipse cx="1844.3" cy="396.8" rx="72.3" ry="28.9" fill="#fff" fill-opacity="0.20"/>
<ellipse cx="2022.5" cy="411.2" rx="38.5" ry="28.9" fill="#fff" fill-opacity="0.20"/>
<ellipse cx="1772.1" cy="406.4" rx="28.9" ry="24.1" fill="#fff" fill-opacity="0.20"/>
<ellipse cx="1998.5" cy="488.3" rx="43.4" ry="24.1" fill="#fff" fill-opacity="0.20"/>
<ellipse cx="1569.7" cy="661.7" rx="43.4" ry="33.7" fill="#fff" fill-opacity="0.20"/>
<ellipse cx="1666.1" cy="681" rx="57.8" ry="24.1" fill="#fff" fill-opacity="0.20"/>
<ellipse cx="1637.2" cy="471.4" rx="19.3" ry="7.7" fill="#fff" fill-opacity="0.40"/>
<ellipse cx="1593.8" cy="449.7" rx="19.3" ry="14.5" fill="#fff" fill-opacity="0.20"/>
</g></g>
<g clip-path="url(#bclip)"><path d="M1727 431.8 1738.6 434.7 1747.2 443.4 1751.6 457.8 1750.1 472.3 1757.3 486.7 1763.1 501.2 1770.4 515.7 1777.6 527.2 1784.8 533 1779 538.8 1764.6 541.7 1753 548.9 1747.2 559 1745.8 570.6 1750.1 585.1 1755.9 599.5 1764.6 609.6 1770.4 622.7 1773.3 637.1M1712.5 418.8 1715.4 434.7 1721.2 447.7 1727 431.8M1767.5 452 1770.4 465.1 1766 481 1764.6 498.3 1770.4 515.7M1784.8 533 1799.3 544.6 1813.7 550.4 1825.3 547.5M1826.7 527.2 1825.3 518.6 1819.5 501.2 1813.7 486.7 1819.5 478.1 1831.1 472.3 1851.3 469.4 1883.1 465.1 1887.5 454.9 1886 436.1 1888.9 421.7M1701 522.9 1712.5 530.1 1725.5 533 1729.9 544.6 1741.4 551.8 1753 548.9M1729.9 544.6 1738.6 559 1741.4 573.5 1740 588 1735.7 602.4 1740 616.9 1744.3 631.3 1742.9 645.8M1701 522.9 1689.4 520 1677.8 524.3 1674.9 535.9M1712.5 418.8 1701 408.7 1692.3 400M1861.2 545.9 1884.5 556.5 1914.2 551.2 1946 554.4 1972.5 551.2 1999 554.4 2013.9 549.1" fill="none" stroke="#032f45" stroke-opacity="0.45" stroke-width="1.6" stroke-linejoin="round"/></g>
<path d="M1651.8 742.9 1666.3 732.8 1683.6 729.9 1682.2 735.7 1673.5 740 1670.6 750.1 1672 758.8 1670.6 768.9 1663.4 767.5 1656.1 758.8 1659 750.1 1651.8 747.2Z" fill="#0f9a78" stroke="#1f3f3a" stroke-width="2"/>
<path d="M1614.2 764.6 1622.9 750.1 1635.9 742.9 1644.6 741.4 1638.8 750.1 1633 758.8 1621.4 763.1Z" fill="#0f9a78" stroke="#1f3f3a" stroke-width="2"/>
<path d="M1754.5 701 1758.8 695.2 1766 696.6 1767.5 703.9 1761.7 708.2 1755.9 706.7Z" fill="#0f9a78" stroke="#1f3f3a" stroke-width="2"/>
<path d="M1598.7 556.2 1604.5 554 1608.8 564.9 1605.9 567.8 1600.1 566.3Z" fill="#fff"/>
<path d="M1378.9 427 1386.1 414 1387.6 402.4 1397.7 395.2 1404.9 382.2 1404.9 372 1418 369.2 1431 366.3 1435.3 359 1432.4 347.5 1436.7 334.5 1448.3 331.6 1459.9 335.9 1470 334.5 1471.4 321.4 1478.7 311.3 1490.2 308.4 1488.8 294 1483 282.4 1483 269.4 1481.6 257.8 1491.7 255.7 1500.4 256.4 1507.6 262.2 1513.4 262.2 1516.3 252 1522 249.2 1529.3 254.9 1536.5 262.2 1548.1 257.8 1556.7 253.5 1558.2 239 1558.2 224.6 1566.9 226 1577 228.9 1584.2 236.1 1592.9 243.4 1598.7 249.2 1598.7 260.7 1595.8 272.3 1604.5 279.5 1608.8 289.6 1614.6 298.3 1617.5 304.1 1624.7 305.5 1633.4 309.9 1643.5 312.8 1646.4 321.4 1643.5 333 1650 338.8 1652.9 350.4 1658.7 360.5 1664.5 364.8 1663 373.5 1667.3 382.2 1671.7 388 1680.4 380.7 1691.9 385.1 1690.5 393.7 1694.8 401 1699.2 403.9 1712.2 402.4 1725.2 398.1 1736.7 395.2 1746.9 393.7 1748.3 382.2 1757 377.8 1768.6 372 1771.4 369.2 1780.1 366.3 1781.6 354.7 1788.8 351.8 1797.5 353.3 1804.7 357.6 1820.6 357.6 1826.4 363.4 1835.1 360.5 1835.1 344.6 1836.5 335.9 1851 333 1852.4 327.2 1865.4 325.8 1866.9 318.6 1877 315.7 1888.6 312.8 1903 314.2 1920.4 312.8 1924.7 314.2 1937.7 312.8 1944.9 308.4 1950 308.4 1960.1 309.9 1967.3 320 1980.4 321.4 1978.9 333 1980.4 344.6 1984.7 353.3 1997.7 357.6 2012.2 359 2018 369.2 2023.7 379.3 2033.9 386.5 2042.5 383.6 2049.8 392.3 2048.3 405.3 2042.5 412.5 2051.2 419.8 2055.5 428.4 2064.2 434.2 2070 445.8 2074.3 455 2078.7 460.2 2083 455 2088.8 445.8 2093.1 437.1 2094.6 427 2100.4 427 2106.1 434.2 2120.6 431.3 2130.7 422.7 2143.7 419.8 2155.3 418.3 2166.9 421.2 2172.7 431.3 2184.2 434.2 2192.9 441.4 2194.3 450.1 2190 455 2178.4 462.2 2169.8 470.9 2162.5 479.6 2152.4 486.8 2140.8 494 2123.5 498.4 2109 502.7 2097.5 508.5 2096 517.2 2100.4 527.3 2107.6 536 2110.5 544.6 2117.7 549 2106.1 553.3 2100.4 562 2094.6 570.7 2093.1 579.3 2087.3 579.3 2085.9 570.7 2075.8 570.7 2061.3 569.2 2059.9 556.2 2061.3 543.2 2065.7 537.4 2070 530.2 2065.7 527.3 2059.9 536 2051.2 537.4 2039.6 541.7 2028.1 546.1 2016.5 550.4 2018 559.1 2028.1 560.5 2025.2 567.8 2016.5 570.7 2012.2 576.4 2022.3 577.9 2032.4 582.2 2035.3 589.5 2028.1 593.8 2018 596.7 2010.7 599.6 2008.6 593.6 2005.4 587.3 2002.2 580.9 1996.9 574.5 1988.4 572.4 1972.5 571.3 1961.9 575.1 1946 577.7 1924.8 583 1907.9 589.4 1899.4 590.4 1895.1 589.4 1888.8 585.1 1882.4 577.7 1875 570.3 1867.6 559.7 1861.2 545.9 1858.2 543.2 1843.7 540.3 1835.1 533.1 1827.8 544.6 1838 550.4 1845.2 559.1 1839.4 570.7 1835.1 580.8 1827.8 592.3 1823.5 605.4 1823.5 614 1830.7 622.7 1827.8 640.1 1820.6 648.7 1814.8 657.4 1809 663.2 1801.8 671.9 1794.6 680.5 1783 686.3 1771.4 683.4 1764.2 676.2 1758.4 683.4 1754.1 692.1 1744 687.8 1736.7 674.8 1732.4 663.2 1728.1 657.4 1715.4 660.5 1714 670.6 1712.5 685.1 1715.4 693.7 1711.1 698.1 1706.7 706.7 1698.1 712.5 1689.4 714 1685.1 705.3 1680.7 696.6 1667.7 698.1 1659 705.3 1648.9 712.5 1640.2 721.2 1634.5 728.4 1624.3 732.8 1612.8 729.9 1601.2 725.5 1594 724.1 1589.6 735.7 1581 740 1568 741.4 1570.8 734.2 1576.6 725.5 1581 715.4 1578.1 709.6 1578.1 698.1 1572.3 689.4 1560.7 685.1 1553.5 677.8 1543.4 669.2 1528.9 663.4 1511.6 661.9 1518.8 656.1 1517.3 646 1510.1 635.9 1522 631.4 1520.6 619.8 1536.5 618.4 1539.4 611.1 1552.4 606.8 1556.7 602.5 1559.6 589.5 1565.4 586.6 1569.8 579.3 1581.3 576.4 1592.9 564.9 1595.8 557.7 1590 554.8 1587.1 544.6 1584.2 534.5 1575.5 533.1 1569.8 523 1568.3 512.8 1561.1 509.9 1558.2 504.2 1564 496.9 1566.9 483.9 1569.8 470.9 1555.3 470.9 1543.7 476.7 1523.5 478.1 1506.1 475.2 1500.4 469.5 1477.2 466.6 1459.9 468 1436.7 462.2 1415.1 455 1416.5 447.2 1422.3 442.9 1415.1 434.2 1404.9 438.6 1397.7 437.1 1384.7 432.8Z" fill="none" stroke="#1d3a33" stroke-opacity="0.85" stroke-width="2.2" stroke-linejoin="round"/>
<path d="M1890.9 658.3 1882.4 651.9 1877.1 644.5 1880.3 636 1882.4 625.4 1882.4 609.5 1886.7 602.1 1895.1 594.7 1905.7 589.4 1918.5 585.1 1933.3 580.9 1948.1 577.7 1961.9 575.6 1972.5 575.6 1982.1 578.8 1991.6 585.1 1999 593.6 2005.4 604.2 2009.6 616.9 2011.8 630.7 2011.8 646.6 2010.7 658.3Z" fill="none" stroke="#0b3a4c" stroke-opacity="0.8" stroke-width="2" stroke-linejoin="round"/>
<path d="M1596.1 750.8L1601.2 748.7M1711.8 711.8L1716.9 710.4M1735.7 713.3L1747.2 711.1M1682.9 762.4L1689.4 762.4M1734.2 705.3L1742.9 695.2M1936.1 691.1L1975.2 674.5M1902.9 720L1923.1 704.8M1845.1 681L1855.2 683.9M1846.5 695.4L1858.1 699.8M1858.1 688.2L1866.7 691.1M1871.1 685.3L1879.8 688.2M1892.8 678.8L1900 676.6M1907.2 675.2L1914.5 679.5M1914.5 666.5L1921.7 668M1869.6 652L1876.9 662.2M1884.1 662.9L1891.3 663.6M1866.7 605.8L1874 608M1833.5 608.7L1840.7 603.6M1950 684.9L1974.6 675.5M2036.7 596.7L2041.1 601M2038.2 575L2042.5 575M2078.7 586.6L2081.6 588M2088.8 570.7L2093.1 579.3M2109 549L2119.2 549.7M1866.9 606.1L1874.1 608.3M1832.2 605.4L1840.8 602.5M1872.7 654.5L1877 661.7M1884.2 663.2L1890 663.2M1916 666.8L1921.8 667.5M1904.5 674.8L1914.6 679.1M1892.9 678.4L1898.7 679.1M1843.7 679.1L1855.3 683.4M1858.2 687.8L1866.9 689.2M1872.7 684.9L1878.4 687.8M1848.1 695L1858.2 697.9M1936.3 692.1L1950 684.9M1916 706.6L1924.7 703.7M1735.3 703.7L1742.5 697.9M1754.1 699.3L1765.7 700.8" stroke="#2a3a38" stroke-width="3.6" stroke-linecap="round" fill="none"/>
<rect x="1823" y="613" width="11" height="12" fill="#f2251a"/>
<text class="city" x="1781" y="643" style="fill:#b0305a;fill-opacity:.75">ZH</text>
<text class="city" x="1796" y="672.5" style="fill:#555;fill-opacity:.8;letter-spacing:-1px">MC</text>
<text class="city" x="1594" y="442.5">ZQ</text>
<text class="city" x="1799.5" y="446.3">GZ</text>
<text class="city" x="1971" y="465.5">HZ</text>
<text class="city" x="1699.5" y="492.5">FS</text>
<text class="city" x="1870.5" y="510">DG</text>
<text class="city" x="1898" y="573.5">SZ</text>
<text class="city" x="1679.5" y="596.6">JM</text>
<text class="city" x="1780.5" y="590.8">ZS</text>
<text class="city" x="1943" y="630.7">HK</text>
</g>
<rect x="1308.4" y="108" width="1005.6" height="771.6" fill="none" stroke="#000" stroke-opacity="0.40" stroke-width="3"/>
<path d="M1508.6 879.6v-10M1508.6 108v10M1709.9 879.6v-10M1709.9 108v10M1911.2 879.6v-10M1911.2 108v10M2112.5 879.6v-10M2112.5 108v10M1308.4 300.9h10M2314 300.9h-10M1308.4 493.8h10M2314 493.8h-10M1308.4 686.7h10M2314 686.7h-10" stroke="#000" stroke-opacity="0.62" stroke-width="1.8" fill="none"/>
<text class="tk" x="1308.6" y="923.3" text-anchor="middle">111°E</text>
<text class="tk" x="1509.9" y="923.3" text-anchor="middle">112°E</text>
<text class="tk" x="1711.2" y="923.3" text-anchor="middle">113°E</text>
<text class="tk" x="1912.5" y="923.3" text-anchor="middle">114°E</text>
<text class="tk" x="2113.8" y="923.3" text-anchor="middle">115°E</text>
<text class="tk" x="2315.1" y="923.3" text-anchor="middle">116°E</text>
<text class="tk" x="1290.9" y="120.5" text-anchor="end">25°N</text>
<text class="tk" x="1290.9" y="313.4" text-anchor="end">24°N</text>
<text class="tk" x="1290.9" y="506.3" text-anchor="end">23°N</text>
<text class="tk" x="1290.9" y="699.2" text-anchor="end">22°N</text>
<text class="tk" x="1290.9" y="892.1" text-anchor="end">21°N</text>
<text class="pl" x="1310.5" y="63.5" letter-spacing="3.8">(b)</text>
<defs><linearGradient id="dem" x1="0" y1="0" x2="0" y2="1"><stop offset="0" stop-color="#9c1f38"/><stop offset="0.12" stop-color="#b42a2c"/><stop offset="0.25" stop-color="#b8472a"/><stop offset="0.36" stop-color="#b8622a"/><stop offset="0.45" stop-color="#dd8a22"/><stop offset="0.55" stop-color="#f2d422"/><stop offset="0.62" stop-color="#f5f321"/><stop offset="0.70" stop-color="#c8ea3a"/><stop offset="0.78" stop-color="#38d83c"/><stop offset="0.86" stop-color="#12b85c"/><stop offset="0.93" stop-color="#0a9a88"/><stop offset="1" stop-color="#1287b4"/></linearGradient></defs>
<rect x="2154" y="725.5" width="52" height="92" fill="url(#dem)"/>
<text class="tk" x="2139.5" y="703.5" style="font-size:31px">DEM/m</text>
<text class="tk" x="2217" y="737" style="font-size:30.5px">1554</text>
<text class="tk" x="2216" y="829" style="font-size:30.5px">-54</text>
</g>
<g id="zoom-lines" fill="none" stroke="#1b2424">
<rect x="535.1" y="511.6" width="179.4" height="128.9" stroke-width="3.3" stroke="#141818"/>
<path d="M735 510L1211.5 121" stroke-width="3.5" stroke-dasharray="26.5 11.75"/>
<path d="M731 644.5L1207 860" stroke-width="3.5" stroke-dasharray="26.5 11.75"/>

</g>
<g id="panel-c">
<rect x="716.6" y="1839.3" width="73.1" height="41" fill="#1b8bb4"/>
<rect x="789.4" y="1781.9" width="74.4" height="98.4" fill="#1b8bb4"/>
<rect x="863.5" y="1683.5" width="74.4" height="196.8" fill="#1b8bb4"/>
<rect x="937.7" y="1519.5" width="74.4" height="360.8" fill="#1b8bb4"/>
<rect x="1011.8" y="1380.1" width="74.4" height="500.2" fill="#1b8bb4"/>
<rect x="1085.9" y="1355.5" width="74.4" height="524.8" fill="#1b8bb4"/>
<rect x="1160" y="1265.3" width="74.4" height="615" fill="#1b8bb4"/>
<rect x="1234.2" y="1298.1" width="74.4" height="582.2" fill="#1b8bb4"/>
<rect x="1308.3" y="1380.1" width="74.4" height="500.2" fill="#1b8bb4"/>
<rect x="1382.4" y="1289.9" width="74.4" height="590.4" fill="#1b8bb4"/>
<rect x="1456.5" y="1421.1" width="74.4" height="459.2" fill="#1b8bb4"/>
<rect x="1530.7" y="1675.3" width="74.4" height="205" fill="#1b8bb4"/>
<rect x="1604.8" y="1732.7" width="74.4" height="147.6" fill="#1b8bb4"/>
<rect x="1678.9" y="1839.3" width="74.4" height="41" fill="#1b8bb4"/>
<path d="M715.3 1880.3V1839.3H789.4V1880.3M789.4 1880.3V1781.9H863.5V1880.3M863.5 1880.3V1683.5H937.7V1880.3M937.7 1880.3V1519.5H1011.8V1880.3M1011.8 1880.3V1380.1H1085.9V1880.3M1085.9 1880.3V1355.5H1160V1880.3M1160 1880.3V1265.3H1234.2V1880.3M1234.2 1880.3V1298.1H1308.3V1880.3M1308.3 1880.3V1380.1H1382.4V1880.3M1382.4 1880.3V1289.9H1456.5V1880.3M1456.5 1880.3V1421.1H1530.7V1880.3M1530.7 1880.3V1675.3H1604.8V1880.3M1604.8 1880.3V1732.7H1678.9V1880.3M1678.9 1880.3V1839.3H1753V1880.3" fill="none" stroke="#0f5f7d" stroke-opacity="0.55" stroke-width="1.2"/>
<path d="M716.6 1880.3V1060.3H1753V1880.3" fill="none" stroke="#000" stroke-opacity="0.40" stroke-width="3"/>
<path d="M715.3 1880.3H1754.3" fill="none" stroke="#2a4a55" stroke-width="2.6"/>
<path d="M789.4 1060.3v10M789.4 1880.3v-10M937.7 1060.3v10M937.7 1880.3v-10M1085.9 1060.3v10M1085.9 1880.3v-10M1234.2 1060.3v10M1234.2 1880.3v-10M1382.4 1060.3v10M1382.4 1880.3v-10M1530.7 1060.3v10M1530.7 1880.3v-10M1678.9 1060.3v10M1678.9 1880.3v-10M716.6 1799.2h10M1753 1799.2h-10M716.6 1716.9h10M1753 1716.9h-10M716.6 1634.7h10M1753 1634.7h-10M716.6 1552.4h10M1753 1552.4h-10M716.6 1470.2h10M1753 1470.2h-10M716.6 1387.9h10M1753 1387.9h-10M716.6 1305.7h10M1753 1305.7h-10M716.6 1223.4h10M1753 1223.4h-10M716.6 1141.2h10M1753 1141.2h-10" stroke="#5a5a5a" stroke-width="1.8" fill="none"/>
<text class="tc" x="789.4" y="1927.7" text-anchor="middle">4</text>
<text class="tc" x="937.7" y="1927.7" text-anchor="middle">6</text>
<text class="tc" x="1085.9" y="1927.7" text-anchor="middle">8</text>
<text class="tc" x="1234.2" y="1927.7" text-anchor="middle">10</text>
<text class="tc" x="1382.4" y="1927.7" text-anchor="middle">12</text>
<text class="tc" x="1530.7" y="1927.7" text-anchor="middle">14</text>
<text class="tc" x="1678.9" y="1927.7" text-anchor="middle">16</text>
<text class="tc" x="702.1" y="1892.7" text-anchor="end">0</text>
<text class="tc" x="702.1" y="1810.7" text-anchor="end">10</text>
<text class="tc" x="702.1" y="1728.6" text-anchor="end">20</text>
<text class="tc" x="702.1" y="1646.5" text-anchor="end">30</text>
<text class="tc" x="702.1" y="1564.4" text-anchor="end">40</text>
<text class="tc" x="702.1" y="1482.4" text-anchor="end">50</text>
<text class="tc" x="702.1" y="1400.3" text-anchor="end">60</text>
<text class="tc" x="702.1" y="1318.2" text-anchor="end">70</text>
<text class="tc" x="702.1" y="1236.1" text-anchor="end">80</text>
<text class="tc" x="702.1" y="1154.1" text-anchor="end">90</text>
<text class="tc" x="702.1" y="1072" text-anchor="end">100</text>
<text class="tc" x="1233.5" y="1985" text-anchor="middle" style="font-size:37px" letter-spacing="0.7">Absolute Humidity(g/m<tspan dy="-15" style="font-size:28px">3</tspan><tspan dy="15">)</tspan></text>
<text class="tc" transform="translate(633 1469.5) rotate(-90)" text-anchor="middle" style="font-size:37px" letter-spacing="0.7">Frequency</text>
<text class="pl" x="709" y="1017.6" letter-spacing="5.5">(c)</text>
</g>
</svg></body></html>
